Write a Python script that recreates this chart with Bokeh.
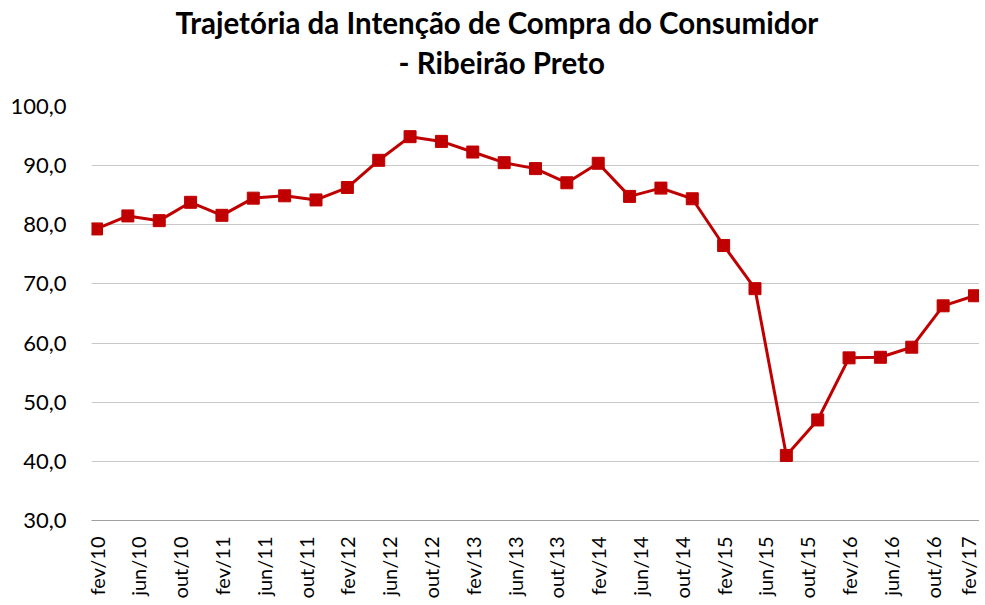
import math
from bokeh.plotting import figure
from bokeh.models import FixedTicker, Title, Range1d
from bokeh.embed import file_html
from bokeh.resources import INLINE

# ---- data ----
periodos = ["fev/10", "mai/10", "ago/10", "nov/10",
            "fev/11", "mai/11", "ago/11", "nov/11",
            "fev/12", "mai/12", "ago/12", "nov/12",
            "fev/13", "mai/13", "ago/13", "nov/13",
            "fev/14", "mai/14", "ago/14", "nov/14",
            "fev/15", "mai/15", "ago/15", "nov/15",
            "fev/16", "mai/16", "ago/16", "nov/16",
            "fev/17"]
valores = [79.3, 81.5, 80.7, 83.8,
           81.6, 84.5, 84.9, 84.2,
           86.3, 90.9, 94.9, 94.1,
           92.3, 90.5, 89.5, 87.1,
           90.4, 84.8, 86.2, 84.4,
           76.5, 69.2, 41.0, 47.0,
           57.5, 57.6, 59.3, 66.3,
           68.0]
rotulos_x = ["fev/10", "jun/10", "out/10",
             "fev/11", "jun/11", "out/11",
             "fev/12", "jun/12", "out/12",
             "fev/13", "jun/13", "out/13",
             "fev/14", "jun/14", "out/14",
             "fev/15", "jun/15", "out/15",
             "fev/16", "jun/16", "out/16",
             "fev/17"]
ticks_y = [30, 40, 50, 60, 70, 80, 90, 100]

titulo1 = "Trajetória da Intenção de Compra do Consumidor"
titulo2 = "- Ribeirão Preto"

meses = {"jan": 1, "fev": 2, "mar": 3, "abr": 4, "mai": 5, "jun": 6,
         "jul": 7, "ago": 8, "set": 9, "out": 10, "nov": 11, "dez": 12}


def mes_index(rotulo):
    m, a = rotulo.split("/")
    return (int(a) - 10) * 12 + meses[m] - 2


x = [mes_index(r) for r in periodos]
x_ticks = [mes_index(r) for r in rotulos_x]

FONT = "Lato"
RED = "#C00000"

p = figure(frame_width=888, frame_height=414, output_backend="svg",
           toolbar_location=None, title=None,
           x_range=Range1d(-0.48, 84.48), y_range=Range1d(30, 100),
           min_border_left=91, min_border_right=0, min_border_top=106,
           min_border_bottom=0)
p.outline_line_color = None
p.background_fill_color = "white"
p.border_fill_color = "white"

t2 = Title(text=titulo2, align="left", text_font=FONT, text_font_size="29.5px",
           text_font_style="bold", text_color="#000000", offset=307, standoff=53)
t1 = Title(text=titulo1, align="left", text_font=FONT, text_font_size="29.5px",
           text_font_style="bold", text_color="#000000", offset=84, standoff=-47)
p.add_layout(t2, "above")
p.add_layout(t1, "above")

p.xgrid.visible = False
p.ygrid.grid_line_color = "#c8c8c8"
p.ygrid.grid_line_width = 1

p.yaxis.ticker = FixedTicker(ticks=ticks_y)
p.yaxis.major_label_overrides = {v: f"{v:.1f}".replace(".", ",") for v in ticks_y}
p.yaxis.axis_line_color = None
p.yaxis.major_tick_line_color = None
p.yaxis.minor_tick_line_color = None
p.yaxis.major_label_text_font = FONT
p.yaxis.major_label_text_font_size = "22px"
p.yaxis.major_label_text_color = "#000000"
p.yaxis.major_label_standoff = 19

p.xaxis.ticker = FixedTicker(ticks=x_ticks)
p.xaxis.major_label_overrides = {t: r for t, r in zip(x_ticks, rotulos_x)}
p.xaxis.major_label_orientation = math.pi / 2
p.xaxis.axis_line_color = "#a0a0a0"
p.xaxis.axis_line_width = 1
p.xaxis.major_tick_line_color = None
p.xaxis.minor_tick_line_color = None
p.xaxis.major_label_text_font = FONT
p.xaxis.major_label_text_font_size = "20px"
p.xaxis.major_label_text_color = "#000000"
p.xaxis.major_label_standoff = 10

p.line(x, valores, line_color=RED, line_width=3)
p.scatter(x, valores, marker="square", size=12, fill_color=RED, line_color=RED)

open("out.html", "w").write(file_html(p, INLINE))
